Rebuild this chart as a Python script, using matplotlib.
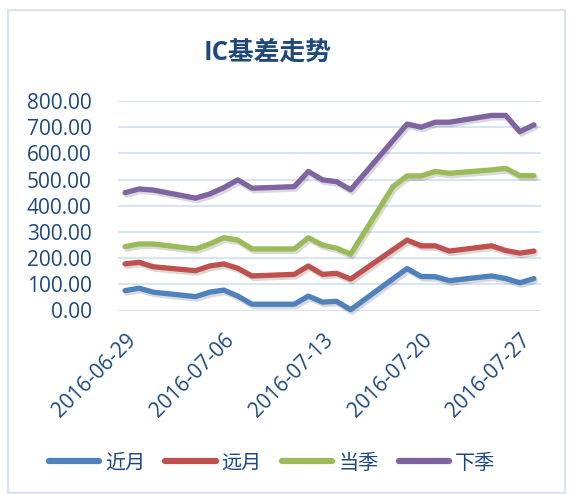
import matplotlib
matplotlib.use("Agg")
import matplotlib.pyplot as plt
import matplotlib.dates as mdates
import matplotlib.patheffects as pe
from matplotlib.patches import Rectangle
import pandas as pd

plt.rcParams['font.family'] = ['Open Sans', 'Noto Sans CJK SC', 'DejaVu Sans']

# trading days
dates = pd.to_datetime([
    "2016-06-29", "2016-06-30", "2016-07-01", "2016-07-04", "2016-07-05",
    "2016-07-06", "2016-07-07", "2016-07-08", "2016-07-11", "2016-07-12",
    "2016-07-13", "2016-07-14", "2016-07-15", "2016-07-18", "2016-07-19",
    "2016-07-20", "2016-07-21", "2016-07-22", "2016-07-25", "2016-07-26",
    "2016-07-27", "2016-07-28",
])

near_month = [76, 85, 70, 53, 70, 78, 55, 24, 24, 55, 32, 35, 3, 121, 160,
              130, 129, 114, 132, 122, 106, 122]
far_month = [178, 184, 167, 152, 170, 178, 161, 132, 138, 170, 138, 142, 120, 232, 269,
             247, 247, 227, 247, 229, 219, 227]
this_quarter = [244, 254, 254, 235, 254, 278, 269, 235, 235, 278, 250, 238, 215, 473, 514,
                514, 531, 524, 537, 543, 515, 515]
next_quarter = [450, 464, 460, 429, 445, 469, 499, 467, 473, 531, 499, 492, 461, 649, 712,
                700, 719, 719, 745, 745, 683, 709]

series = [
    ("近月", near_month, "#4F81BD"),
    ("远月", far_month, "#C0504D"),
    ("当季", this_quarter, "#9BBB59"),
    ("下季", next_quarter, "#8064A2"),
]
tick_dates = pd.to_datetime(["2016-06-29", "2016-07-06", "2016-07-13", "2016-07-20", "2016-07-27"])

text_color = "#1F497D"
grid_color = "#D9E4F2"

fig = plt.figure(figsize=(5.73, 4.94), dpi=100)

# chart area border
fig.patches.append(Rectangle((8 / 573, 1 / 494), 557 / 573, 483 / 494,
                             transform=fig.transFigure, fill=False,
                             edgecolor=grid_color, linewidth=1.5))

ax = fig.add_axes([118 / 573, 1 - 310.5 / 494, 423 / 573, 209.5 / 494])

shadow = [pe.SimpleLineShadow(offset=(1.2, -1.8), shadow_color="#000000", alpha=0.15),
          pe.Normal()]
for name, vals, color in series:
    ax.plot(dates, vals, color=color, linewidth=3.8, label=name,
            solid_capstyle="round", solid_joinstyle="round",
            path_effects=shadow, clip_on=False, zorder=3)

ax.set_ylim(0, 800)
ax.set_yticks(range(0, 801, 100))
ax.set_yticklabels([f"{v:.2f}" for v in range(0, 801, 100)])
ax.set_xlim(pd.Timestamp("2016-06-28 12:00"), pd.Timestamp("2016-07-28 12:00"))
ax.set_xticks(tick_dates)
ax.xaxis.set_major_formatter(mdates.DateFormatter("%Y-%m-%d"))

ax.grid(axis="y", color=grid_color, linewidth=1.5, zorder=0)
ax.set_axisbelow(True)
for s in ax.spines.values():
    s.set_visible(False)
ax.tick_params(axis="both", length=0, colors=text_color, labelsize=15)
ax.tick_params(axis="y", pad=19)
ax.tick_params(axis="x", pad=14)
for lbl in ax.get_xticklabels():
    lbl.set_rotation(45)
    lbl.set_ha("right")
    lbl.set_va("top")
    lbl.set_rotation_mode("anchor")

fig.text(268 / 573, 1 - 52 / 494, "IC基差走势", ha="center", va="center",
         fontsize=18.5, fontweight="bold", color=text_color,
         family=["Open Sans", "Noto Sans CJK SC"])

leg = fig.legend(loc="center", bbox_to_anchor=(272 / 573, 1 - 463 / 494), ncol=4,
                 frameon=False, handlelength=2.5, handletextpad=0.3,
                 columnspacing=1.0, prop={"family": ["Noto Sans CJK SC"], "size": 14.5})
for t in leg.get_texts():
    t.set_color(text_color)
for h in leg.get_lines():
    h.set_linewidth(4.5)
    h.set_path_effects([])

fig.savefig("out.png", dpi=100)
